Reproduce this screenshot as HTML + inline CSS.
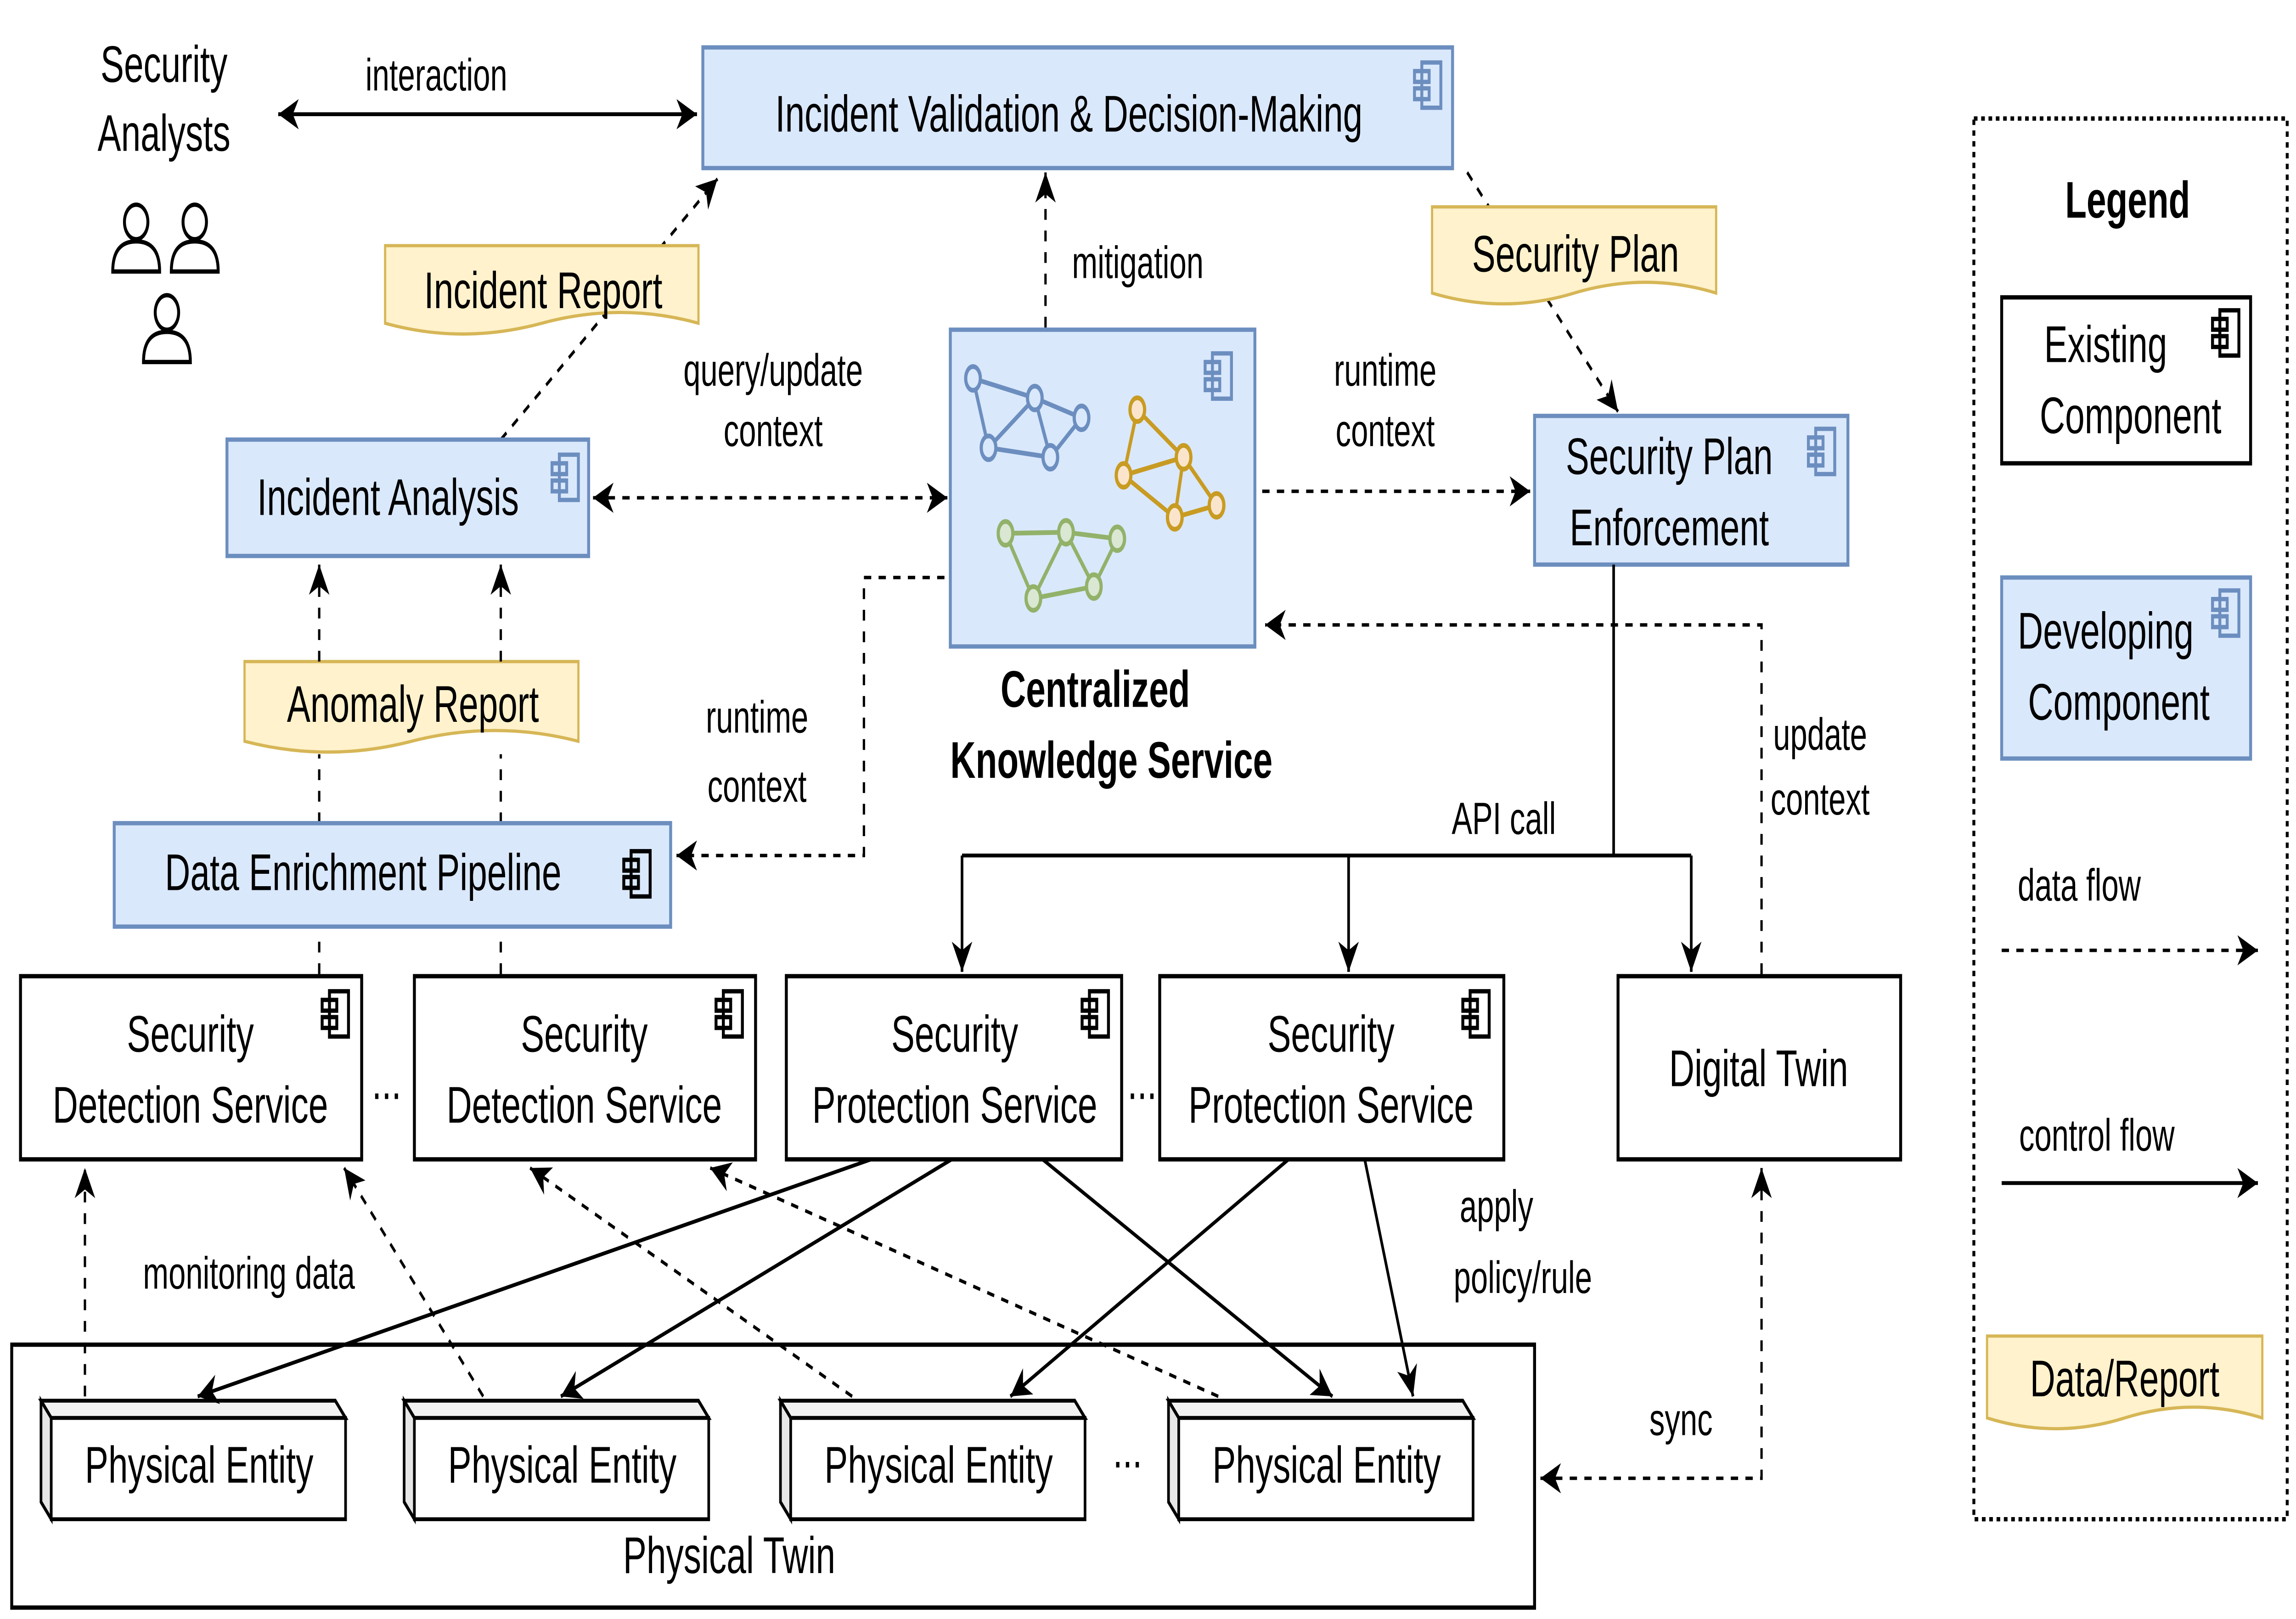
<!DOCTYPE html>
<html><head><meta charset="utf-8"><style>
html,body{margin:0;padding:0;background:#fff;width:100%;height:100%;overflow:hidden}
svg{display:block;position:fixed;left:0;top:0;width:100vw;height:100vh}
text{font-family:"Liberation Sans",Arial,sans-serif;fill:#000}
</style></head><body>
<svg width="7359" height="3526" viewBox="0 0 1568 751.3" preserveAspectRatio="none" xmlns="http://www.w3.org/2000/svg">
<defs>
<marker id="ah" markerUnits="userSpaceOnUse" markerWidth="20" markerHeight="20" viewBox="0 0 20 20" refX="16" refY="10" orient="auto-start-reverse">
<path d="M2,3 L16,10 L2,17 L6,10 Z" fill="#000"/>
</marker>
<g id="ci" fill="none" stroke-width="2">
<rect x="5" y="0" width="13" height="21"/>
<rect x="0" y="4" width="10" height="5" fill="inherit"/>
<rect x="0" y="12" width="10" height="5" fill="inherit"/>
</g>
</defs>
<style>
.bx{stroke:#000;stroke-width:2;fill:#fff}
.bl{stroke:#6c8ebf;stroke-width:2;fill:#dae8fc}
.dc{stroke:#d6b656;stroke-width:1.5;fill:#fff2cc}
.d{stroke:#000;stroke-width:1.6;fill:none;stroke-dasharray:5,5}
.s{stroke:#000;stroke-width:1.8;fill:none}
.t{font-size:24px;text-anchor:middle}
.l{font-size:21px;text-anchor:middle}
</style>

<text class="t" x="112" y="38">Security</text>
<text class="t" x="112" y="70">Analysts</text>
<g fill="#fff" stroke="#000" stroke-width="2">
<circle cx="93" cy="103" r="8"/><path d="M77,126 Q77,112 93,112 Q109,112 109,126 Z"/>
<circle cx="133" cy="103" r="8"/><path d="M117,126 Q117,112 133,112 Q149,112 149,126 Z"/>
<circle cx="114" cy="145" r="8"/><path d="M98,168 Q98,154 114,154 Q130,154 130,168 Z"/>
</g>
<line class="s" x1="190" y1="53" x2="476" y2="53" marker-start="url(#ah)" marker-end="url(#ah)"/>
<text class="l" x="298" y="42">interaction</text>

<rect class="bl" x="480" y="22" width="512" height="56"/>
<text class="t" x="730" y="61">Incident Validation &amp; Decision-Making</text>
<use href="#ci" x="966" y="29" stroke="#6c8ebf" fill="#dae8fc"/>

<line class="d" x1="342" y1="204" x2="490" y2="83" marker-end="url(#ah)"/>
<path class="dc" d="M263,114 H477 V150 Q424,140 370,150 Q316,160 263,150 Z"/>
<text class="t" x="371" y="143">Incident Report</text>

<line class="d" x1="1002" y1="80" x2="1105" y2="191" marker-end="url(#ah)"/>
<path class="dc" d="M978,96 H1172 V136 Q1124,126 1075,136 Q1027,146 978,136 Z"/>
<text class="t" x="1076" y="126">Security Plan</text>

<line class="d" x1="714" y1="152" x2="714" y2="80" marker-end="url(#ah)"/>
<text class="l" x="777" y="129">mitigation</text>

<rect class="bl" x="649" y="153" width="208" height="147"/>
<use href="#ci" x="823" y="164" stroke="#6c8ebf" fill="#dae8fc"/>
<g stroke="#6c8ebf" stroke-width="2.2">
<line x1="664.5" y1="175.6" x2="706.7" y2="184.7"/><line x1="664.5" y1="175.6" x2="675.1" y2="207.8"/>
<line x1="706.7" y1="184.7" x2="738.6" y2="193.9"/><line x1="706.7" y1="184.7" x2="675.1" y2="207.8"/>
<line x1="706.7" y1="184.7" x2="717.3" y2="212.2"/><line x1="738.6" y1="193.9" x2="717.3" y2="212.2"/>
<line x1="675.1" y1="207.8" x2="717.3" y2="212.2"/>
<g fill="#dae8fc"><ellipse cx="664.5" cy="175.6" rx="5" ry="5.5"/><ellipse cx="706.7" cy="184.7" rx="5" ry="5.5"/><ellipse cx="738.6" cy="193.9" rx="5" ry="5.5"/><ellipse cx="675.1" cy="207.8" rx="5" ry="5.5"/><ellipse cx="717.3" cy="212.2" rx="5" ry="5.5"/></g>
</g>
<g stroke="#c89b22" stroke-width="2.2">
<line x1="776.7" y1="190.1" x2="808.3" y2="212.2"/><line x1="776.7" y1="190.1" x2="767.3" y2="220.6"/>
<line x1="767.3" y1="220.6" x2="808.3" y2="212.2"/><line x1="808.3" y1="212.2" x2="830.8" y2="234.5"/>
<line x1="808.3" y1="212.2" x2="802.3" y2="240.1"/><line x1="767.3" y1="220.6" x2="802.3" y2="240.1"/>
<line x1="802.3" y1="240.1" x2="830.8" y2="234.5"/>
<g fill="#fae5cc"><ellipse cx="776.7" cy="190.1" rx="5" ry="5.5"/><ellipse cx="808.3" cy="212.2" rx="5" ry="5.5"/><ellipse cx="767.3" cy="220.6" rx="5" ry="5.5"/><ellipse cx="830.8" cy="234.5" rx="5" ry="5.5"/><ellipse cx="802.3" cy="240.1" rx="5" ry="5.5"/></g>
</g>
<g stroke="#92b26a" stroke-width="2.2">
<line x1="686.7" y1="247.5" x2="728" y2="247"/><line x1="728" y1="247" x2="763" y2="250"/>
<line x1="686.7" y1="247.5" x2="705.7" y2="277.7"/><line x1="728" y1="247" x2="705.7" y2="277.7"/>
<line x1="728" y1="247" x2="747" y2="272.2"/><line x1="763" y1="250" x2="747" y2="272.2"/>
<line x1="705.7" y1="277.7" x2="747" y2="272.2"/>
<g fill="#d9e7d3"><ellipse cx="686.7" cy="247.5" rx="5" ry="5.5"/><ellipse cx="728" cy="247" rx="5" ry="5.5"/><ellipse cx="763" cy="250" rx="5" ry="5.5"/><ellipse cx="705.7" cy="277.7" rx="5" ry="5.5"/><ellipse cx="747" cy="272.2" rx="5" ry="5.5"/></g>
</g>
<text class="t" x="748" y="328" font-weight="bold">Centralized</text>
<text class="t" x="759" y="361" font-weight="bold">Knowledge Service</text>

<rect class="bl" x="155" y="204" width="247" height="54"/>
<text class="t" x="265" y="239">Incident Analysis</text>
<use href="#ci" x="377" y="211" stroke="#6c8ebf" fill="#dae8fc"/>
<line class="d" x1="405" y1="231" x2="647" y2="231" marker-start="url(#ah)" marker-end="url(#ah)"/>
<text class="l" x="528" y="179">query/update</text>
<text class="l" x="528" y="207">context</text>

<line class="d" x1="862" y1="228" x2="1045" y2="228" marker-end="url(#ah)"/>
<text class="l" x="946" y="179">runtime</text>
<text class="l" x="946" y="207">context</text>

<rect class="bl" x="1048" y="193" width="214" height="69"/>
<text class="t" x="1140" y="220">Security Plan</text>
<text class="t" x="1140" y="253">Enforcement</text>
<use href="#ci" x="1235" y="199" stroke="#6c8ebf" fill="#dae8fc"/>

<polyline class="d" points="1203,452 1203,290 864,290" marker-end="url(#ah)"/>
<text class="l" x="1243" y="348">update</text>
<text class="l" x="1243" y="378">context</text>

<polyline class="d" points="645,268 590,268 590,397 462,397" marker-end="url(#ah)"/>
<text class="l" x="517" y="340">runtime</text>
<text class="l" x="517" y="372">context</text>

<path class="dc" d="M167,307 H395 V344 Q338,334 281,344 Q224,354 167,344 Z"/>
<text class="t" x="282" y="335">Anomaly Report</text>
<line class="d" x1="218" y1="307" x2="218" y2="262" marker-end="url(#ah)"/>
<line class="d" x1="342" y1="307" x2="342" y2="262" marker-end="url(#ah)"/>
<line class="d" x1="218" y1="382" x2="218" y2="350"/>
<line class="d" x1="342" y1="382" x2="342" y2="350"/>

<rect class="bl" x="78" y="382" width="380" height="48"/>
<text class="t" x="248" y="413">Data Enrichment Pipeline</text>
<use href="#ci" x="426" y="395" stroke="#000" fill="#dae8fc"/>
<line class="d" x1="218" y1="452" x2="218" y2="432"/>
<line class="d" x1="342" y1="452" x2="342" y2="432"/>

<rect class="bx" x="14" y="453" width="233" height="85"/>
<text class="t" x="130" y="488">Security</text>
<text class="t" x="130" y="521">Detection Service</text>
<use href="#ci" x="220" y="460" stroke="#000" fill="#fff"/>
<text class="t" x="264" y="510">...</text>
<rect class="bx" x="283" y="453" width="233" height="85"/>
<text class="t" x="399" y="488">Security</text>
<text class="t" x="399" y="521">Detection Service</text>
<use href="#ci" x="489" y="460" stroke="#000" fill="#fff"/>
<rect class="bx" x="537" y="453" width="229" height="85"/>
<text class="t" x="652" y="488">Security</text>
<text class="t" x="652" y="521">Protection Service</text>
<use href="#ci" x="739" y="460" stroke="#000" fill="#fff"/>
<text class="t" x="780" y="510">...</text>
<rect class="bx" x="792" y="453" width="235" height="85"/>
<text class="t" x="909" y="488">Security</text>
<text class="t" x="909" y="521">Protection Service</text>
<use href="#ci" x="999" y="460" stroke="#000" fill="#fff"/>
<rect class="bx" x="1105" y="453" width="193" height="85"/>
<text class="t" x="1201" y="504">Digital Twin</text>

<line class="s" x1="1102" y1="262" x2="1102" y2="397"/>
<line class="s" x1="657" y1="397" x2="1155" y2="397"/>
<line class="s" x1="657" y1="397" x2="657" y2="451" marker-end="url(#ah)"/>
<line class="s" x1="921" y1="397" x2="921" y2="451" marker-end="url(#ah)"/>
<line class="s" x1="1155" y1="397" x2="1155" y2="451" marker-end="url(#ah)"/>
<text class="l" x="1027" y="387">API call</text>

<rect class="bx" x="8" y="624" width="1040" height="122"/>
<text class="t" x="498" y="730">Physical Twin</text>
<g stroke="#000" stroke-width="1.8">
<g transform="translate(28,650)"><polygon points="0,0 201,0 208,8 7,8" fill="#f1f1f1"/><polygon points="0,0 7,8 7,55 0,47" fill="#e6e6e6"/><rect x="7" y="8" width="201" height="47" fill="#fff"/></g>
<g transform="translate(276,650)"><polygon points="0,0 201,0 208,8 7,8" fill="#f1f1f1"/><polygon points="0,0 7,8 7,55 0,47" fill="#e6e6e6"/><rect x="7" y="8" width="201" height="47" fill="#fff"/></g>
<g transform="translate(533,650)"><polygon points="0,0 201,0 208,8 7,8" fill="#f1f1f1"/><polygon points="0,0 7,8 7,55 0,47" fill="#e6e6e6"/><rect x="7" y="8" width="201" height="47" fill="#fff"/></g>
<g transform="translate(798,650)"><polygon points="0,0 201,0 208,8 7,8" fill="#f1f1f1"/><polygon points="0,0 7,8 7,55 0,47" fill="#e6e6e6"/><rect x="7" y="8" width="201" height="47" fill="#fff"/></g>
</g>
<text class="t" x="136" y="688">Physical Entity</text>
<text class="t" x="384" y="688">Physical Entity</text>
<text class="t" x="641" y="688">Physical Entity</text>
<text class="t" x="906" y="688">Physical Entity</text>
<text class="t" x="770" y="681">...</text>

<polyline class="d" points="1052,686 1203,686 1203,542" marker-start="url(#ah)" marker-end="url(#ah)"/>
<text class="l" x="1148" y="666">sync</text>

<line class="d" x1="58" y1="648" x2="58" y2="542" marker-end="url(#ah)"/>
<text class="l" x="170" y="598">monitoring data</text>
<line class="d" x1="330" y1="648" x2="235" y2="542" marker-end="url(#ah)"/>
<line class="d" x1="582" y1="648" x2="362" y2="542" marker-end="url(#ah)"/>
<line class="d" x1="832" y1="648" x2="485" y2="542" marker-end="url(#ah)"/>

<line class="s" x1="595" y1="538" x2="135" y2="648" marker-end="url(#ah)"/>
<line class="s" x1="650" y1="538" x2="383" y2="648" marker-end="url(#ah)"/>
<line class="s" x1="712" y1="538" x2="910" y2="648" marker-end="url(#ah)"/>
<line class="s" x1="880" y1="538" x2="690" y2="648" marker-end="url(#ah)"/>
<line class="s" x1="932" y1="538" x2="965" y2="648" marker-end="url(#ah)"/>
<text class="l" x="1022" y="567">apply</text>
<text class="l" x="1040" y="600">policy/rule</text>

<rect x="1348" y="55" width="214" height="650" fill="none" stroke="#000" stroke-width="2" stroke-dasharray="2.5,2.5"/>
<text class="t" x="1453" y="101" font-weight="bold">Legend</text>
<rect class="bx" x="1367" y="138" width="170" height="77"/>
<text class="t" x="1438" y="168">Existing</text>
<text class="t" x="1455" y="201">Component</text>
<use href="#ci" x="1511" y="144" stroke="#000" fill="#fff"/>
<rect class="bl" x="1367" y="268" width="170" height="84"/>
<text class="t" x="1438" y="301">Developing</text>
<text class="t" x="1447" y="334">Component</text>
<use href="#ci" x="1511" y="274" stroke="#6c8ebf" fill="#dae8fc"/>
<text class="l" x="1420" y="418">data flow</text>
<line class="d" x1="1367" y1="441" x2="1542" y2="441" marker-end="url(#ah)"/>
<text class="l" x="1432" y="534">control flow</text>
<line class="s" x1="1367" y1="549" x2="1542" y2="549" marker-end="url(#ah)"/>
<path class="dc" d="M1357,620 H1545 V658 Q1498,648 1451,658 Q1404,668 1357,658 Z"/>
<text class="t" x="1451" y="648">Data/Report</text>
</svg>
</body></html>
